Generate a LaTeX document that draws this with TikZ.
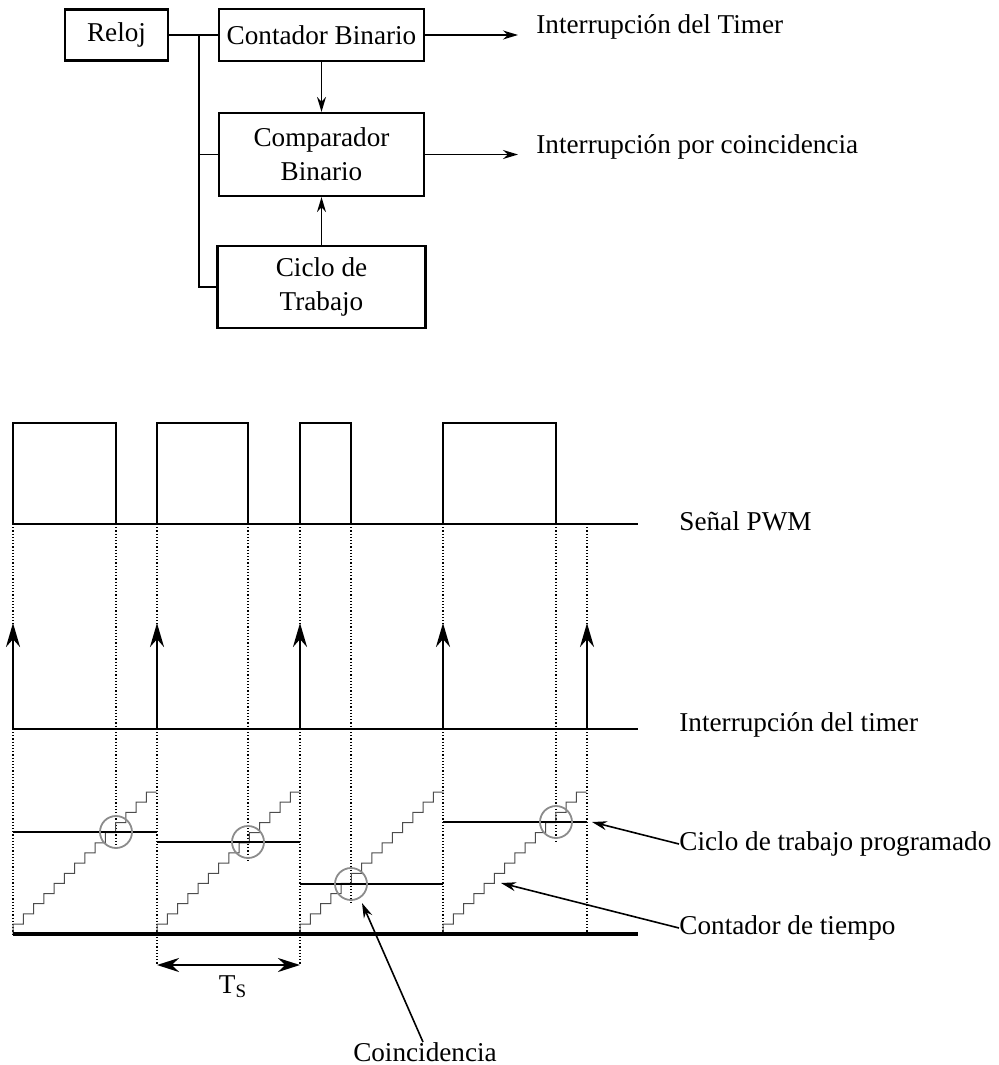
\documentclass[tikz,border=0pt]{standalone}
\usepackage{fontspec}
\setmainfont{Liberation Serif}
\usetikzlibrary{arrows.meta}
\begin{document}
\begin{tikzpicture}[x=0.5pt, y=-0.5pt,
    font=\fontsize{13.6}{17}\selectfont,
    block/.style={draw, line width=1.1pt, inner sep=0pt, align=center},
    wire/.style={line width=0.8pt},
    sig/.style={line width=1.3pt},
    guide/.style={line width=0.6pt, densely dotted},
    duty/.style={line width=1.2pt},
    ramp/.style={line width=0.5pt, black!70},
    ring/.style={line width=0.9pt, black!45},
    lbl/.style={anchor=west, inner sep=0pt},
    >={Stealth[length=7.5pt, width=4.5pt]}]

    \useasboundingbox (0,0) rectangle (998,1065);

    % diagrama de bloques
    \node [block, minimum width=51.5pt, minimum height=25.5pt] (reloj) at (116.5,35) {Reloj};
    \node [block, minimum width=102.5pt, minimum height=26pt] (contador) at (321.5,35) {Contador Binario};
    \node [block, minimum width=102.5pt, minimum height=41.5pt] (comparador) at (321.5,154.5) {Comparador\\Binario};
    \node [block, minimum width=104pt, minimum height=41pt] (ciclo) at (321.5,287) {Ciclo de\\Trabajo};

    \coordinate (busT) at (199,35);
    \coordinate (busB) at (199,287);
    \draw [wire] (reloj.east) -- (contador.west);
    \draw [wire] (busT) -- (busB) -- (ciclo.west);
    \draw [wire] (busT |- comparador.west) -- (comparador.west);
    \draw [wire] [->] (contador) -- (comparador);
    \draw [wire] [->] (ciclo) -- (comparador);

    \node [lbl] (intT) at (536,27) {Interrupción del Timer};
    \node [lbl] (intC) at (536,147) {Interrupción por coincidencia};
    \coordinate (outT) at (518,35);
    \coordinate (outC) at (518,154.5);
    \draw [wire] [->] (contador.east) -- (outT);
    \draw [wire] [->] (comparador.east) -- (outC);

    % lineas guia
    \foreach \x/\y in {13/934, 116/850, 157/965, 248/863, 300/965, 351/903, 443/934, 556/842, 587/934}
      \draw [guide] (\x,524) -- (\x,\y);

    % senal PWM
    \draw [sig] (13,524) -- (638,524);
    \foreach \a/\b in {13/116, 157/248, 300/351, 443/556}
      \draw [sig] (\a,524) -- (\a,423) -- (\b,423) -- (\b,524);
    \node [lbl] (pwm) at (679,521) {Señal PWM};

    % interrupcion del timer
    \draw [wire] (13,729) -- (638,729);
    \foreach \x in {13,157,300,443,587}
      \draw [line width=1.3pt, -{Stealth[length=12pt, width=7pt]}] (\x,729) -- (\x,623);
    \node [lbl] (timer) at (679,725) {Interrupción del timer};

    % contador de tiempo
    \foreach \t in {13,157,300,443}
      \draw [ramp] (\t,934) -- (\t,924)
        \foreach \i in {1,...,13} { -- ({\t+\i*10.25},{924-(\i-1)*10.15}) -- ({\t+\i*10.25},{924-\i*10.15}) }
        -- ({\t+143.5},792);

    % ciclo de trabajo
    \foreach \a/\b/\y in {13/157/832, 157/300/842, 300/443/884, 443/587/822}
      \draw [duty] (\a,\y) -- (\b,\y);
    \foreach \x/\y in {116/832, 248/842, 351/884, 556/822}
      \draw [ring] (\x,\y) circle [radius=8pt];

    \draw [line width=1.7pt] (13,934) -- (638,934);

    % periodo
    \coordinate (tsA) at (157,965);
    \coordinate (tsB) at (300,965);
    \draw [line width=1.2pt, {Stealth[length=11pt, width=7pt]}-{Stealth[length=11pt, width=7pt]}] (tsA) -- (tsB);
    \node (ts) at (233,987) {T\textsubscript{S}};

    % etiquetas
    \node [lbl] (lciclo) at (679,844) {Ciclo de trabajo programado};
    \node [lbl] (lcont) at (679,928) {Contador de tiempo};
    \node [inner sep=0pt] (lcoin) at (425,1052) {Coincidencia};
    \coordinate (pCiclo) at (592,822);
    \coordinate (pCont) at (501,883);
    \coordinate (pCoin) at (362,903);
    \draw [wire] [->] (lciclo.west) -- (pCiclo);
    \draw [wire] [->] (lcont.west) -- (pCont);
    \draw [wire] [->] ([xshift=-1pt]lcoin.north) -- (pCoin);
\end{tikzpicture}
\end{document}
